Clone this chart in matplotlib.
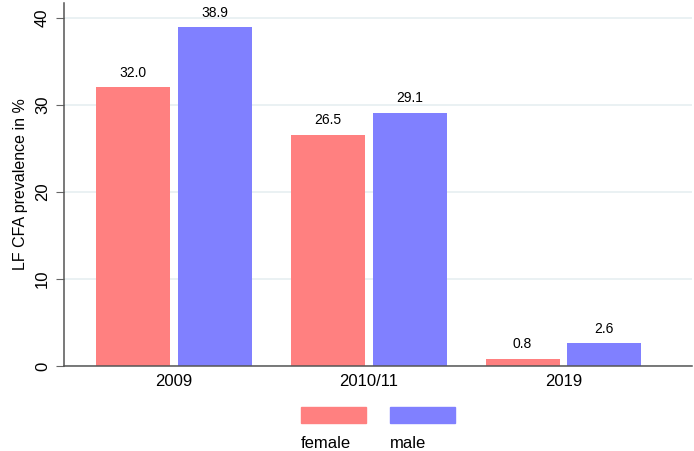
import matplotlib.pyplot as plt
from matplotlib.patches import Rectangle
import numpy as np

plt.rcParams['font.family'] = ['Liberation Sans', 'DejaVu Sans']

years = ['2009', '2010/11', '2019']
female = [32.0, 26.5, 0.8]
male = [38.9, 29.1, 2.6]

c_female = '#ff8080'
c_male = '#8080ff'

fig = plt.figure(figsize=(6.94, 4.51), dpi=100)
ax = fig.add_axes([64/694, 1 - 366/451, (692-64)/694, (366-3)/451])

x = np.arange(len(years))
w = 0.38
off = 0.21
b1 = ax.bar(x - off, female, width=w, color=c_female, zorder=2)
b2 = ax.bar(x + off, male, width=w, color=c_male, zorder=2)
for bars in (b1, b2):
    for r in bars:
        h = r.get_height()
        ax.text(r.get_x() + r.get_width()/2, h + 0.9, f'{h:.1f}',
                ha='center', va='bottom', fontsize=10)

ax.set_xlim(-0.565, 2.66)
ax.set_ylim(0, 41.7)
ax.set_yticks([0, 10, 20, 30, 40])
ax.set_xticks(x)
ax.set_xticklabels(years, fontsize=12)
for t in ax.get_yticklabels():
    t.set_rotation(90)
    t.set_va('center')
    t.set_fontsize(12)
ax.tick_params(axis='x', length=0, pad=6)
ax.tick_params(axis='y', length=6, color='#666666', pad=4)
ax.yaxis.grid(True, color='#e6eff1', lw=1.2, zorder=0)
ax.set_axisbelow(True)
for s in ['top', 'right']:
    ax.spines[s].set_visible(False)
for s in ['left', 'bottom']:
    ax.spines[s].set_color('#555555')
    ax.spines[s].set_linewidth(1.1)
ax.set_ylabel('LF CFA prevalence in %', fontsize=11.5, labelpad=5)

# legend below the chart, labels under the keys
for i, (lab, col) in enumerate([('female', c_female), ('male', c_male)]):
    x0 = (301 + i*89) / 694
    fig.patches.append(Rectangle((x0, 1 - 423/451), 65/694, 16/451,
                                 transform=fig.transFigure, color=col))
    fig.text(x0, 1 - 443/451, lab, fontsize=12, va='center', ha='left')

fig.savefig('out.png', dpi=100)
